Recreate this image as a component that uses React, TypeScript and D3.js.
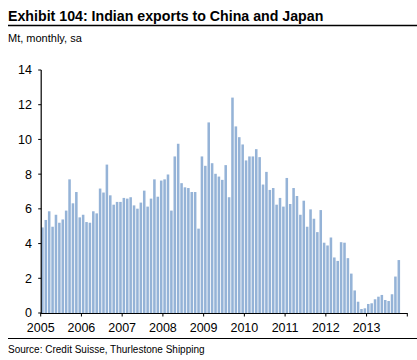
import React from "react";
import * as d3 from "d3";

const title = "Exhibit 104: Indian exports to China and Japan";
const subtitle = "Mt, monthly, sa";
const source = "Source: Credit Suisse, Thurlestone Shipping";

const years = [2005, 2006, 2007, 2008, 2009, 2010, 2011, 2012, 2013];
const yTicks = [0, 2, 4, 6, 8, 10, 12, 14];

const v2005 = [4.93, 5.36, 5.86, 4.97, 5.66, 5.2, 5.39, 5.9, 7.7, 6.32, 6.97, 5.51];
const v2006 = [5.66, 5.24, 5.2, 5.86, 5.74, 7.17, 6.94, 8.55, 6.78, 6.24, 6.4, 6.4];
const v2007 = [6.63, 6.59, 6.67, 6.2, 6.01, 6.36, 7.05, 6.13, 6.59, 7.7, 6.7, 7.63];
const v2008 = [7.7, 7.98, 5.9, 9.02, 9.75, 7.48, 7.24, 7.2, 6.97, 6.97, 4.86, 9.02];
const v2009 = [8.48, 10.98, 8.63, 8.02, 7.86, 7.67, 8.52, 6.67, 12.41, 10.75, 10.13, 9.71];
const v2010 = [8.79, 9.02, 9.02, 9.44, 8.98, 7.4, 8.13, 7.09, 7.2, 6.24, 6.63, 6.13];
const v2011 = [7.78, 6.28, 7.2, 6.74, 5.66, 6.47, 4.97, 5.97, 5.43, 4.66, 5.93, 4.05];
const v2012 = [3.89, 4.35, 3.2, 3.0, 4.08, 4.05, 3.16, 2.27, 1.3, 0.65, 0.23, 0.27];
const v2013 = [0.52, 0.56, 0.79, 0.94, 1.04, 0.75, 0.69, 1.08, 2.1, 3.05];

const values = [...v2005, ...v2006, ...v2007, ...v2008, ...v2009, ...v2010, ...v2011, ...v2012, ...v2013];

const W = 417;
const H = 360;
const x0 = 40.7;
const x1 = 407.3;
const yBottom = 313;
const yTop = 70;
const font = "'Liberation Sans', Arial, sans-serif";

export default function App() {
  const totalMonths = 108;
  const xBand = d3
    .scaleBand<number>()
    .domain(d3.range(totalMonths))
    .range([x0, x1])
    .paddingInner(0.25)
    .paddingOuter(0.125);
  const xYear = d3.scaleLinear().domain([2005, 2014]).range([x0, x1]);
  const y = d3.scaleLinear().domain([0, 14]).range([yBottom, yTop]);

  const yearTicks = d3.range(2005, 2015);

  return (
    <svg
      width={W}
      height={H}
      style={{ position: "absolute", left: 0, top: 0, background: "#fff" }}
      fontFamily={font}
    >
      <text x={8} y={21} fontSize={14.2} fontWeight="bold" fill="#000">
        {title}
      </text>
      <line x1={8} x2={417} y1={25.5} y2={25.5} stroke="#000" strokeWidth={1.5} />
      <text x={8} y={42} fontSize={11} fill="#000">
        {subtitle}
      </text>

      {values.map((v, i) => (
        <rect
          key={i}
          x={xBand(i)!}
          width={xBand.bandwidth()}
          y={y(v)}
          height={y(0) - y(v)}
          fill="#95b3d7"
        />
      ))}

      {/* Y axis */}
      <line x1={x0 + 0.5} x2={x0 + 0.5} y1={yTop} y2={yBottom} stroke="#000" strokeWidth={1.2} />
      {yTicks.map((t) => (
        <g key={t}>
          <line x1={x0 - 2.5} x2={x0 + 0.5} y1={y(t)} y2={y(t)} stroke="#000" strokeWidth={1} />
          <text x={32} y={y(t)} dy="0.35em" textAnchor="end" fontSize={12.5} fill="#000">
            {t}
          </text>
        </g>
      ))}

      {/* X axis */}
      <line x1={x0} x2={x1} y1={yBottom + 0.5} y2={yBottom + 0.5} stroke="#000" strokeWidth={1.2} />
      {yearTicks.map((yr) => (
        <line
          key={yr}
          x1={xYear(yr)}
          x2={xYear(yr)}
          y1={yBottom}
          y2={yBottom + 3.5}
          stroke="#000"
          strokeWidth={1}
        />
      ))}
      {years.map((yr) => (
        <text key={yr} x={xYear(yr)} y={332} textAnchor="middle" fontSize={12.5} fill="#000">
          {yr}
        </text>
      ))}

      <line x1={8} x2={417} y1={338.5} y2={338.5} stroke="#000" strokeWidth={1} />
      <text x={8} y={352.5} fontSize={10} fill="#000">
        {source}
      </text>
    </svg>
  );
}
